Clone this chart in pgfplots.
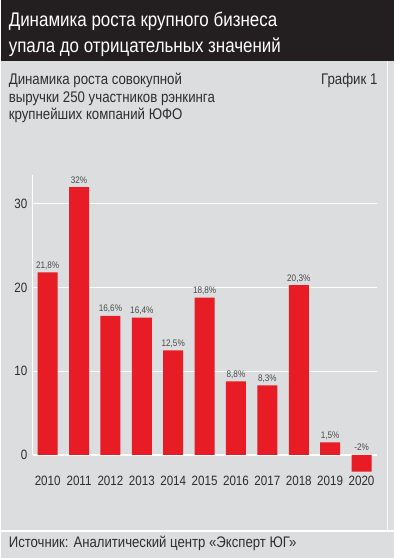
\documentclass[border=0pt]{standalone}
\usepackage{fontspec}
\setmainfont{Liberation Sans}[FakeStretch=0.86]
\usepackage{pgfplots}
\pgfplotsset{compat=1.18}
\definecolor{bg}{HTML}{DCDDDF}
\definecolor{band}{HTML}{231F20}
\definecolor{barred}{HTML}{E81C24}
\definecolor{txt}{HTML}{2E2E2E}
\definecolor{lab}{HTML}{4A4A4A}
\begin{document}
\begin{tikzpicture}[x=1bp,y=1bp]
\fill[bg] (0,0) rectangle (393,558);
\fill[band] (0,497) rectangle (393,558);
\draw[white, line width=1.2bp] (0,27) -- (393,27);
\draw[white!80!bg, line width=0.8bp] (386.5,27) -- (386.5,497);
% title
\node[anchor=base west, inner sep=0, text=white, font=\fontsize{19.7bp}{22bp}\selectfont] at (8,531) {Динамика роста крупного бизнеса};
\node[anchor=base west, inner sep=0, text=white, font=\fontsize{19.7bp}{22bp}\selectfont] at (8,505.5) {упала до отрицательных значений};
% subtitle
\node[anchor=base west, inner sep=0, text=txt, font=\fontsize{15.4bp}{17bp}\selectfont] at (8,473) {Динамика роста совокупной};
\node[anchor=base west, inner sep=0, text=txt, font=\fontsize{15.4bp}{17bp}\selectfont] at (8,455.5) {выручки 250 участников рэнкинга};
\node[anchor=base west, inner sep=0, text=txt, font=\fontsize{15.4bp}{17bp}\selectfont] at (8,438) {крупнейших компаний ЮФО};
\node[anchor=base east, inner sep=0, text=txt, font=\fontsize{15.4bp}{17bp}\selectfont] at (377,473) {График 1};
% source
\node[anchor=base west, inner sep=0, text=txt, font=\fontsize{15.3bp}{17bp}\selectfont] at (8,10.5) {Источник: Аналитический центр «Эксперт ЮГ»};
\begin{axis}[
  at={(32bp,83bp)}, anchor=south west,
  scale only axis, width=344bp, height=300bp,
  xmin=-0.48, xmax=10.48, ymin=-2.4, ymax=33.45,
  axis line style={draw=none},
  tick style={draw=none},
  ytick={0,10,20,30},
  ymajorgrids, grid style={white, line width=1.2bp},
  xtick={0,...,10},
  xticklabels={2010,2011,2012,2013,2014,2015,2016,2017,2018,2019,2020},
  /pgf/number format/assume math mode=true,
  ticklabel style={text=txt, font=\fontsize{13.5bp}{15bp}\selectfont},
  xticklabel style={anchor=north, inner sep=1bp},
  yticklabel style={anchor=east, inner sep=5bp},
  clip=false,
]
\addplot[ybar, bar width=20bp, fill=barred, draw=none] coordinates {
(0,21.8) (1,32) (2,16.6) (3,16.4) (4,12.5) (5,18.8) (6,8.8) (7,8.3) (8,20.3) (9,1.5) (10,-2)
};
\addplot[draw=none, mark=none, nodes near coords, point meta=explicit symbolic,
  every node near coord/.style={anchor=base, yshift=4bp, inner sep=0, text=lab, font=\fontsize{9.5bp}{11bp}\selectfont}] coordinates {
(0,21.8) [21,8\%] (1,32) [32\%] (2,16.6) [16,6\%] (3,16.4) [16,4\%] (4,12.5) [12,5\%] (5,18.8) [18,8\%] (6,8.8) [8,8\%] (7,8.3) [8,3\%] (8,20.3) [20,3\%] (9,1.5) [1,5\%] (10,0) [-2\%]
};
\draw[white, line width=1.2bp] (axis cs:-0.48,0) -- (axis cs:-0.48,33.45);
\end{axis}
\end{tikzpicture}
\end{document}
